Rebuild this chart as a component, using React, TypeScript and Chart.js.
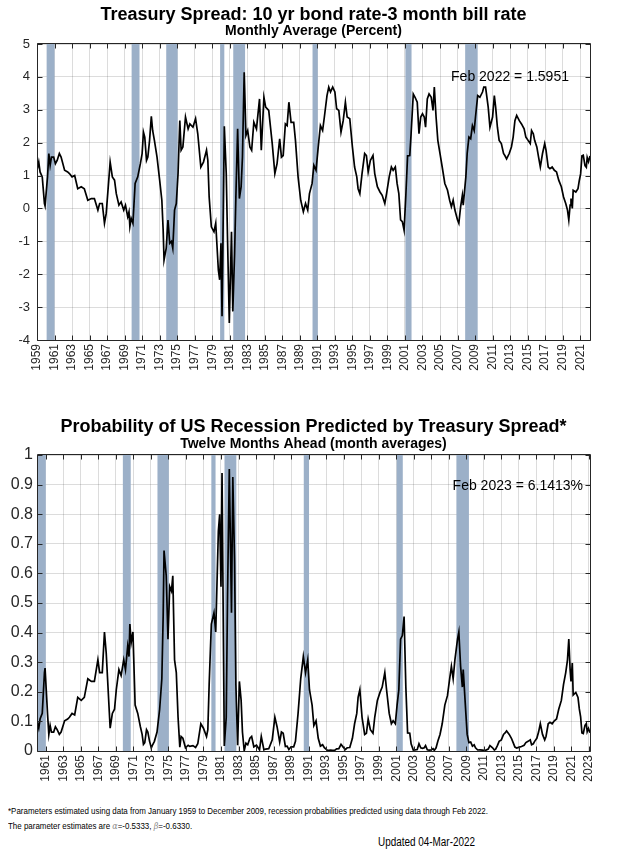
import React, { useEffect, useRef } from "react";
import { Chart, registerables } from "chart.js";

Chart.register(...registerables);

const FONT = '"Liberation Sans", Arial, Helvetica, sans-serif';
const INK = "#262626";
const GRID = "rgba(38,38,38,0.16)";
const BAND = "rgb(156,176,200)";

// ---------- Top panel: 10yr - 3mo spread (percent) ----------
const spreadDates = [
  1959.0, 1959.2, 1959.35, 1959.6, 1959.85, 1959.92,
  1960.2, 1960.35, 1960.5, 1960.65, 1960.9,
  1961.1, 1961.3, 1961.55, 1961.75,
  1962.15, 1962.5, 1962.7,
  1963.0, 1963.3, 1963.65,
  1964.05, 1964.4, 1964.8,
  1965.2, 1965.55, 1965.95,
  1966.15, 1966.45, 1966.7, 1966.9,
  1967.35, 1967.6, 1967.85,
  1968.05, 1968.35, 1968.6, 1968.9,
  1969.1, 1969.35, 1969.5, 1969.6, 1969.75, 1969.95,
  1970.2, 1970.5, 1970.8,
  1971.0, 1971.15, 1971.3, 1971.5, 1971.65, 1971.85,
  1972.05, 1972.2, 1972.4, 1972.7,
  1973.0, 1973.25, 1973.4, 1973.5, 1973.75, 1973.95,
  1974.15, 1974.35, 1974.5, 1974.7, 1974.9,
  1975.1, 1975.3, 1975.45, 1975.65, 1975.95,
  1976.25, 1976.45, 1976.8,
  1977.1, 1977.35, 1977.7,
  1978.0, 1978.35, 1978.5, 1978.65, 1978.9,
  1979.2, 1979.4, 1979.7, 1979.85,
  1980.0, 1980.12, 1980.38, 1980.6, 1980.75, 1980.95,
  1981.2, 1981.35, 1981.55, 1981.7, 1981.9,
  1982.1, 1982.3, 1982.45, 1982.65, 1982.85,
  1983.05, 1983.3, 1983.5, 1983.75,
  1984.05, 1984.4, 1984.6, 1984.9,
  1985.1, 1985.45, 1985.85,
  1986.15, 1986.4, 1986.7, 1986.9,
  1987.1, 1987.35, 1987.55, 1987.75,
  1988.0, 1988.3, 1988.5, 1988.8,
  1989.1, 1989.4, 1989.65, 1989.9,
  1990.1, 1990.4, 1990.6, 1990.85,
  1991.1, 1991.35, 1991.6, 1991.8,
  1992.1, 1992.3, 1992.5, 1992.75,
  1993.0, 1993.2, 1993.45, 1993.7, 1993.95,
  1994.2, 1994.4, 1994.7,
  1995.0, 1995.25, 1995.5, 1995.65, 1995.85,
  1996.1, 1996.4, 1996.6, 1996.8,
  1997.05, 1997.35, 1997.55, 1997.85,
  1998.15, 1998.4, 1998.7, 1998.9,
  1999.2, 1999.45, 1999.65, 1999.9,
  2000.1, 2000.3, 2000.5, 2000.7, 2000.9,
  2001.1, 2001.3, 2001.55, 2001.7, 2001.95,
  2002.15, 2002.4, 2002.6, 2002.8,
  2003.0, 2003.2, 2003.35, 2003.55, 2003.75,
  2004.0, 2004.2, 2004.35, 2004.55, 2004.75,
  2005.0, 2005.25, 2005.55, 2005.85,
  2006.1, 2006.3, 2006.5, 2006.7,
  2007.0, 2007.15, 2007.35, 2007.55, 2007.65, 2007.95,
  2008.1, 2008.3, 2008.5, 2008.7, 2008.9,
  2009.05, 2009.3, 2009.55, 2009.85,
  2010.0, 2010.2, 2010.5, 2010.7,
  2011.0, 2011.2, 2011.35, 2011.55, 2011.75,
  2012.0, 2012.25, 2012.4, 2012.6, 2012.9,
  2013.15, 2013.35, 2013.55, 2013.75,
  2014.05, 2014.3, 2014.6, 2014.8,
  2015.05, 2015.3, 2015.45, 2015.65, 2015.8,
  2016.05, 2016.25, 2016.45, 2016.7, 2016.95,
  2017.1, 2017.35, 2017.55, 2017.8,
  2018.05, 2018.3, 2018.55, 2018.85,
  2019.1, 2019.35, 2019.55, 2019.7, 2019.85, 2019.95,
  2020.1, 2020.2, 2020.5, 2020.75, 2020.9,
  2021.05, 2021.2, 2021.35, 2021.55, 2021.7, 2021.8, 2021.95,
  2022.12,
];

const spreadValues = [
  1.16, 1.41, 1.11, 0.96, 0.15, 0.08,
  0.96, 1.67, 1.31, 1.56, 1.56,
  1.36, 1.46, 1.67, 1.56,
  1.16, 1.11, 1.06,
  0.96, 1.0, 0.6,
  0.66, 0.6, 0.25,
  0.3, 0.3, -0.05,
  0.15, 0.15, -0.45, -0.15,
  1.41, 0.96, 0.86,
  0.45, 0.1, 0.2, -0.05,
  0.1, -0.25, -0.1, -0.55, -0.3, -0.45,
  0.76, 0.96, 1.36,
  1.67, 2.32, 2.17, 1.46, 1.56, 2.07,
  2.8, 2.37, 2.07, 1.56,
  0.86, 0.25, -0.66, -1.57, -1.21, -0.35,
  -1.06, -1.0, -1.21, -0.05, 0.15,
  1.06, 2.67, 1.77, 1.87, 2.78,
  2.42, 2.57, 2.47,
  2.73, 2.27, 1.26,
  1.41, 1.77, 1.46, 0.35, -0.56,
  -0.71, -0.45, -1.87, -2.17,
  -1.06, -3.28, 2.5, 1.06, -0.96, -3.48,
  -0.71, -3.13, -1.41, 0.35, 2.42,
  0.3, 0.66, 1.56, 4.14, 2.22,
  2.37, 1.87, 1.77, 2.62,
  2.42, 3.33, 1.77, 3.38,
  3.08, 2.98, 1.97,
  1.06, 1.36, 2.12, 1.56,
  1.61, 2.57, 2.52, 3.23,
  2.62, 2.62, 2.07, 0.96,
  0.25, -0.1, 0.15, -0.05,
  0.45, 0.76, 1.31, 1.16,
  1.87, 2.52, 2.37, 2.78,
  3.43, 3.69, 3.54, 3.69,
  3.54, 3.03, 2.98, 2.32, 2.67,
  3.23, 2.78, 2.73,
  1.87, 1.26, 0.96, 0.6, 0.45,
  1.06, 1.67, 1.61, 1.11,
  1.46, 1.61, 1.06, 0.66,
  0.5, 0.4, 0.15, 0.45,
  0.96, 1.26, 1.16, 1.26,
  0.76, 0.45, -0.35, -0.4, -0.66,
  0.4, 1.6, 1.61, 2.27, 3.48,
  3.38, 3.23, 2.27, 2.78,
  2.88, 2.78, 2.47, 3.33, 3.48,
  3.38, 2.98, 3.69, 2.78, 2.07,
  1.67, 1.26, 0.76, 0.56,
  0.25, 0.05, 0.25, -0.05,
  -0.35, -0.45, 0.05, 0.4, 0.1, 0.96,
  1.67, 2.17, 2.12, 2.52, 2.37,
  2.78, 3.43, 3.38, 3.54,
  3.69, 3.69, 3.08, 2.47,
  2.78, 3.43, 3.08, 2.47, 2.07,
  1.97, 1.67, 1.61, 1.51, 1.67,
  1.87, 2.17, 2.67, 2.83,
  2.67, 2.57, 2.42, 2.17,
  2.07, 1.97, 2.37, 2.27, 2.07,
  1.87, 1.56, 1.26, 1.67, 1.97,
  1.77, 1.26, 1.21, 1.26,
  1.16, 1.11, 0.86, 0.66,
  0.35, 0.15, -0.05, -0.35, 0.1, 0.3,
  0.0, 0.55, 0.5, 0.6, 0.85,
  1.05, 1.6, 1.62, 1.3, 1.25, 1.55, 1.42,
  1.5951,
];

// ---------- Bottom panel: recession probability, twelve months ahead ----------
const probDates = [
  1960.0, 1960.2, 1960.35, 1960.6, 1960.85, 1960.92,
  1961.2, 1961.35, 1961.5, 1961.65, 1961.9,
  1962.1, 1962.3, 1962.55, 1962.75,
  1963.15, 1963.5, 1963.7,
  1964.0, 1964.3, 1964.65,
  1965.05, 1965.4, 1965.8,
  1966.2, 1966.55, 1966.95,
  1967.15, 1967.45, 1967.7, 1967.9,
  1968.35, 1968.6, 1968.85,
  1969.05, 1969.35, 1969.6, 1969.9,
  1970.1, 1970.35, 1970.5, 1970.6, 1970.75, 1970.95,
  1971.2, 1971.5, 1971.8,
  1972.0, 1972.15, 1972.3, 1972.5, 1972.65, 1972.85,
  1973.05, 1973.2, 1973.4, 1973.7,
  1974.0, 1974.25, 1974.4, 1974.5, 1974.75, 1974.95,
  1975.15, 1975.35, 1975.5, 1975.7, 1975.9,
  1976.1, 1976.3, 1976.45, 1976.65, 1976.95,
  1977.25, 1977.45, 1977.8,
  1978.1, 1978.35, 1978.7,
  1979.0, 1979.35, 1979.5, 1979.65, 1979.9,
  1980.2, 1980.4, 1980.7, 1980.85,
  1981.0, 1981.12, 1981.38, 1981.6, 1981.75, 1981.95,
  1982.2, 1982.35, 1982.55, 1982.7, 1982.9,
  1983.1, 1983.3, 1983.45, 1983.65, 1983.85,
  1984.05, 1984.3, 1984.5, 1984.75,
  1985.05, 1985.4, 1985.6, 1985.9,
  1986.1, 1986.45, 1986.85,
  1987.15, 1987.4, 1987.7, 1987.9,
  1988.1, 1988.35, 1988.55, 1988.75,
  1989.0, 1989.3, 1989.5, 1989.8,
  1990.1, 1990.4, 1990.65, 1990.9,
  1991.1, 1991.4, 1991.6, 1991.85,
  1992.1, 1992.35, 1992.6, 1992.8,
  1993.1, 1993.3, 1993.5, 1993.75,
  1994.0, 1994.2, 1994.45, 1994.7, 1994.95,
  1995.2, 1995.4, 1995.7,
  1996.0, 1996.25, 1996.5, 1996.65, 1996.85,
  1997.1, 1997.4, 1997.6, 1997.8,
  1998.05, 1998.35, 1998.55, 1998.85,
  1999.15, 1999.4, 1999.7, 1999.9,
  2000.2, 2000.45, 2000.65, 2000.9,
  2001.1, 2001.3, 2001.5, 2001.7, 2001.9,
  2002.1, 2002.3, 2002.55, 2002.7, 2002.95,
  2003.15, 2003.4, 2003.6, 2003.8,
  2004.0, 2004.2, 2004.35, 2004.55, 2004.75,
  2005.0, 2005.2, 2005.35, 2005.55, 2005.75,
  2006.0, 2006.25, 2006.55, 2006.85,
  2007.1, 2007.3, 2007.5, 2007.7,
  2008.0, 2008.15, 2008.35, 2008.55, 2008.65, 2008.95,
  2009.1, 2009.3, 2009.5, 2009.7, 2009.9,
  2010.05, 2010.3, 2010.55, 2010.85,
  2011.0, 2011.2, 2011.5, 2011.7,
  2012.0, 2012.2, 2012.35, 2012.55, 2012.75,
  2013.0, 2013.25, 2013.4, 2013.6, 2013.9,
  2014.15, 2014.35, 2014.55, 2014.75,
  2015.05, 2015.3, 2015.6, 2015.8,
  2016.05, 2016.3, 2016.45, 2016.65, 2016.8,
  2017.05, 2017.25, 2017.45, 2017.7, 2017.95,
  2018.1, 2018.35, 2018.55, 2018.8,
  2019.05, 2019.3, 2019.55, 2019.85,
  2020.1, 2020.35, 2020.55, 2020.7, 2020.85, 2020.95,
  2021.1, 2021.2, 2021.5, 2021.75, 2021.9,
  2022.05, 2022.2, 2022.35, 2022.55, 2022.7, 2022.8, 2022.95,
  2023.12,
];

const probValues = [
  0.102, 0.077, 0.108, 0.127, 0.265, 0.28,
  0.127, 0.056, 0.086, 0.064, 0.064,
  0.082, 0.072, 0.056, 0.064,
  0.102, 0.108, 0.114,
  0.127, 0.122, 0.181,
  0.171, 0.181, 0.244,
  0.235, 0.235, 0.308,
  0.265, 0.265, 0.402, 0.331,
  0.077, 0.127, 0.141,
  0.207, 0.275, 0.255, 0.308,
  0.275, 0.354, 0.319, 0.429, 0.366, 0.402,
  0.155, 0.127, 0.082,
  0.056, 0.0226, 0.0283, 0.072, 0.064, 0.0326,
  0.0106, 0.021, 0.0326, 0.064,
  0.141, 0.244, 0.454, 0.677, 0.592, 0.378,
  0.555, 0.54, 0.592, 0.308, 0.265,
  0.114, 0.0131, 0.049, 0.043, 0.0109,
  0.0195, 0.0154, 0.018,
  0.0119, 0.0244, 0.092,
  0.077, 0.049, 0.072, 0.225, 0.429,
  0.467, 0.402, 0.742, 0.8,
  0.555, 0.939, 0.0172, 0.114, 0.53, 0.953,
  0.467, 0.926, 0.64, 0.225, 0.0195,
  0.235, 0.171, 0.064, 0.0008, 0.0263,
  0.021, 0.043, 0.049, 0.0142,
  0.0195, 0.0041, 0.049, 0.0038,
  0.0065, 0.0078, 0.0375,
  0.114, 0.082, 0.0304, 0.064,
  0.06, 0.0154, 0.0166, 0.005,
  0.0142, 0.0142, 0.0326, 0.127,
  0.244, 0.319, 0.265, 0.308,
  0.207, 0.155, 0.086, 0.102,
  0.043, 0.0166, 0.021, 0.0109,
  0.0034, 0.0021, 0.0028, 0.0021,
  0.0028, 0.0071, 0.0078, 0.0226, 0.0131,
  0.005, 0.0109, 0.0119,
  0.043, 0.092, 0.127, 0.181, 0.207,
  0.114, 0.056, 0.06, 0.108,
  0.072, 0.06, 0.114, 0.171,
  0.198, 0.216, 0.265, 0.207,
  0.127, 0.092, 0.102, 0.092,
  0.155, 0.207, 0.378, 0.39, 0.454,
  0.216, 0.061, 0.06, 0.0244, 0.0031,
  0.0038, 0.005, 0.0244, 0.0109,
  0.0092, 0.0109, 0.018, 0.0041, 0.0031,
  0.0038, 0.0078, 0.0021, 0.0109, 0.0326,
  0.056, 0.092, 0.155, 0.187,
  0.244, 0.286, 0.244, 0.308,
  0.378, 0.402, 0.286, 0.216, 0.275, 0.127,
  0.056, 0.0283, 0.0304, 0.0166, 0.021,
  0.0109, 0.0034, 0.0038, 0.0028,
  0.0021, 0.0021, 0.0065, 0.018,
  0.0109, 0.0034, 0.0065, 0.018, 0.0326,
  0.0375, 0.056, 0.06, 0.068, 0.056,
  0.043, 0.0283, 0.0131, 0.01,
  0.0131, 0.0154, 0.0195, 0.0283,
  0.0326, 0.0375, 0.021, 0.0244, 0.0326,
  0.043, 0.064, 0.092, 0.056, 0.0375,
  0.049, 0.092, 0.097, 0.092,
  0.102, 0.108, 0.141, 0.171,
  0.225, 0.265, 0.308, 0.378, 0.275, 0.235,
  0.297, 0.189, 0.198, 0.181, 0.142,
  0.115, 0.061, 0.059, 0.087, 0.093, 0.065, 0.076,
  0.0614,
];

// ---------- Recession shading (NBER), decimal years ----------
const recessionStarts = [1960.1, 1969.8, 1973.75, 1979.9, 1981.4, 1990.45, 2001.05, 2007.87];
const recessionEnds = [1961.0, 1970.7, 1975.05, 1980.38, 1982.75, 1991.05, 2001.75, 2009.3];

// ---------- Tick values / labels ----------
const spreadTickYears = [
  1959, 1961, 1963, 1965, 1967, 1969, 1971, 1973, 1975, 1977, 1979, 1981, 1983, 1985, 1987, 1989,
  1991, 1993, 1995, 1997, 1999, 2001, 2003, 2005, 2007, 2009, 2011, 2013, 2015, 2017, 2019, 2021,
];
const spreadTickValues = [-4, -3, -2, -1, 0, 1, 2, 3, 4, 5];
const spreadTickLabels = ["-4", "-3", "-2", "-1", "0", "1", "2", "3", "4", "5"];

const probTickYears = [
  1961, 1963, 1965, 1967, 1969, 1971, 1973, 1975, 1977, 1979, 1981, 1983, 1985, 1987, 1989, 1991,
  1993, 1995, 1997, 1999, 2001, 2003, 2005, 2007, 2009, 2011, 2013, 2015, 2017, 2019, 2021, 2023,
];
const probTickValues = [0, 0.1, 0.2, 0.3, 0.4, 0.5, 0.6, 0.7, 0.8, 0.9, 1];
const probTickLabels = ["0", "0.1", "0.2", "0.3", "0.4", "0.5", "0.6", "0.7", "0.8", "0.9", "1"];

// ---------- Plugin: recession bands, box frame with inward ticks, value note ----------
const framePlugin = {
  id: "econFrame",
  beforeDatasetsDraw(chart: any) {
    const { ctx, chartArea: a } = chart;
    const xs = chart.scales.x;
    ctx.save();
    ctx.beginPath();
    ctx.rect(a.left, a.top, a.right - a.left, a.bottom - a.top);
    ctx.clip();
    ctx.fillStyle = BAND;
    for (let i = 0; i < recessionStarts.length; i++) {
      const x1 = xs.getPixelForValue(recessionStarts[i]);
      const x2 = xs.getPixelForValue(recessionEnds[i]);
      ctx.fillRect(x1, a.top, x2 - x1, a.bottom - a.top);
    }
    ctx.restore();
  },
  afterDraw(chart: any, _args: any, opts: any) {
    const { ctx, chartArea: a } = chart;
    const xs = chart.scales.x;
    const ys = chart.scales.y;
    const L = Math.round(a.left) + 0.5;
    const R = Math.round(a.right) + 0.5;
    const T = Math.round(a.top) - 0.5;
    const B = Math.round(a.bottom) + 0.5;
    const TL = 5;
    ctx.save();
    ctx.strokeStyle = INK;
    ctx.lineWidth = 1;
    ctx.beginPath();
    ctx.rect(L, T, R - L, B - T);
    for (const t of xs.ticks) {
      const px = Math.round(xs.getPixelForValue(t.value)) + 0.5;
      ctx.moveTo(px, B);
      ctx.lineTo(px, B - TL);
      ctx.moveTo(px, T);
      ctx.lineTo(px, T + TL);
    }
    for (const t of ys.ticks) {
      const py = Math.round(ys.getPixelForValue(t.value)) + 0.5;
      ctx.moveTo(L, py);
      ctx.lineTo(L + TL, py);
      ctx.moveTo(R, py);
      ctx.lineTo(R - TL, py);
    }
    ctx.stroke();
    if (opts && opts.text) {
      ctx.font = `14px ${FONT}`;
      ctx.fillStyle = "#000";
      ctx.textAlign = "right";
      ctx.textBaseline = "middle";
      ctx.fillText(opts.text, xs.getPixelForValue(opts.x), ys.getPixelForValue(opts.y));
    }
    ctx.restore();
  },
};

type PanelCfg = {
  xs: number[];
  ys: number[];
  xMin: number;
  xMax: number;
  yMin: number;
  yMax: number;
  xTicks: number[];
  yTicks: number[];
  yLabels: string[];
  yFontSize: number;
  yPad: number;
  title: string;
  subtitle: string;
  titlePad: { top: number; bottom: number };
  subPad: { top: number; bottom: number };
  xAxisHeight: number;
  note: { text: string; x: number; y: number };
};

function buildConfig(cfg: PanelCfg): any {
  return {
    type: "line",
    data: {
      datasets: [
        {
          data: cfg.xs.map((v, i) => ({ x: v, y: cfg.ys[i] })),
          borderColor: "#000",
          borderWidth: 1.7,
          pointRadius: 0,
          pointHoverRadius: 0,
          tension: 0,
          fill: false,
        },
      ],
    },
    options: {
      responsive: false,
      animation: false,
      events: [],
      layout: { padding: { left: 0, right: 43, top: 0, bottom: 0 } },
      plugins: {
        legend: { display: false },
        tooltip: { enabled: false },
        title: {
          display: true,
          text: cfg.title,
          color: "#000",
          fullSize: false,
          font: { family: FONT, size: 18, weight: "bold", lineHeight: 1 },
          padding: cfg.titlePad,
        },
        subtitle: {
          display: true,
          text: cfg.subtitle,
          color: "#000",
          fullSize: false,
          font: { family: FONT, size: 14, weight: "bold", lineHeight: 1 },
          padding: cfg.subPad,
        },
        econFrame: cfg.note,
      },
      scales: {
        x: {
          type: "linear",
          min: cfg.xMin,
          max: cfg.xMax,
          afterBuildTicks: (s: any) => {
            s.ticks = cfg.xTicks.map((v) => ({ value: v }));
          },
          afterFit: (s: any) => {
            s.height = cfg.xAxisHeight;
          },
          grid: { color: GRID, lineWidth: 1, drawTicks: false },
          border: { display: false },
          ticks: {
            autoSkip: false,
            minRotation: 90,
            maxRotation: 90,
            padding: 4,
            color: INK,
            font: { family: FONT, size: 12 },
            callback: (v: any) => String(v),
          },
        },
        y: {
          type: "linear",
          min: cfg.yMin,
          max: cfg.yMax,
          afterBuildTicks: (s: any) => {
            s.ticks = cfg.yTicks.map((v) => ({ value: v }));
          },
          afterFit: (s: any) => {
            s.width = 37;
          },
          grid: { color: GRID, lineWidth: 1, drawTicks: false },
          border: { display: false },
          ticks: {
            autoSkip: false,
            padding: cfg.yPad,
            color: INK,
            font: { family: FONT, size: cfg.yFontSize },
            callback: (_v: any, i: number) => cfg.yLabels[i],
          },
        },
      },
    },
    plugins: [framePlugin],
  };
}

const topCfg: PanelCfg = {
  xs: spreadDates,
  ys: spreadValues,
  xMin: 1959,
  xMax: 2022.12,
  yMin: -4,
  yMax: 5,
  xTicks: spreadTickYears,
  yTicks: spreadTickValues,
  yLabels: spreadTickLabels,
  yFontSize: 13,
  yPad: 7,
  title: "Treasury Spread: 10 yr bond rate-3 month bill rate",
  subtitle: "Monthly Average (Percent)",
  titlePad: { top: 6, bottom: 0 },
  subPad: { top: 0, bottom: 6 },
  xAxisHeight: 40,
  note: { text: "Feb 2022 = 1.5951", x: 2019.72, y: 3.98 },
};

const bottomCfg: PanelCfg = {
  xs: probDates,
  ys: probValues,
  xMin: 1960,
  xMax: 2023.12,
  yMin: 0,
  yMax: 1,
  xTicks: probTickYears,
  yTicks: probTickValues,
  yLabels: probTickLabels,
  yFontSize: 16,
  yPad: 4,
  title: "Probability of US Recession Predicted by Treasury Spread*",
  subtitle: "Twelve Months Ahead (month averages)",
  titlePad: { top: 18, bottom: 1 },
  subPad: { top: 0, bottom: 4 },
  xAxisHeight: 49,
  note: { text: "Feb 2023 = 6.1413%", x: 2022.32, y: 0.895 },
};

function Panel({ cfg, top, height }: { cfg: PanelCfg; top: number; height: number }) {
  const ref = useRef<HTMLCanvasElement>(null);
  useEffect(() => {
    const chart = new Chart(ref.current as HTMLCanvasElement, buildConfig(cfg));
    return () => chart.destroy();
  }, [cfg]);
  return (
    <canvas
      ref={ref}
      width={633}
      height={height}
      style={{ position: "absolute", left: 0, top, width: 633, height }}
    />
  );
}

function measure(text: string, font: string): number {
  const c = document.createElement("canvas").getContext("2d");
  if (!c) return 1;
  c.font = font;
  return c.measureText(text).width || 1;
}

const FOOT_LINE1 =
  "*Parameters estimated using data from January 1959 to December 2009, recession probabilities predicted using data through Feb 2022.";
const UPDATED = "Updated 04-Mar-2022";

export default function App() {
  const s1 = 480 / measure(FOOT_LINE1, `9.5px ${FONT}`);
  const s3 = 97 / measure(UPDATED, `12px ${FONT}`);
  const footStyle: React.CSSProperties = {
    position: "absolute",
    left: 8,
    fontFamily: FONT,
    fontSize: 9.5,
    lineHeight: "12px",
    whiteSpace: "nowrap",
    color: "#000",
    transform: `scaleX(${s1})`,
    transformOrigin: "left center",
  };
  return (
    <div
      style={{
        position: "absolute",
        left: 0,
        top: 0,
        width: 633,
        height: 865,
        background: "#fff",
        overflow: "hidden",
      }}
    >
      <Panel cfg={topCfg} top={0} height={380} />
      <Panel cfg={bottomCfg} top={400} height={400} />
      <div style={{ ...footStyle, top: 805 }}>{FOOT_LINE1}</div>
      <div style={{ ...footStyle, top: 820 }}>
        The parameter estimates are{" "}
        <span style={{ fontFamily: '"DejaVu Serif", serif', color: "#8a8a8a", fontStyle: "italic" }}>α</span>
        =-0.5333,{" "}
        <span style={{ fontFamily: '"DejaVu Serif", serif', color: "#8a8a8a", fontStyle: "italic" }}>β</span>
        =-0.6330.
      </div>
      <div
        style={{
          position: "absolute",
          left: 378,
          top: 835,
          fontFamily: FONT,
          fontSize: 12,
          lineHeight: "14px",
          whiteSpace: "nowrap",
          color: "#000",
          transform: `scaleX(${s3})`,
          transformOrigin: "left center",
        }}
      >
        {UPDATED}
      </div>
    </div>
  );
}
